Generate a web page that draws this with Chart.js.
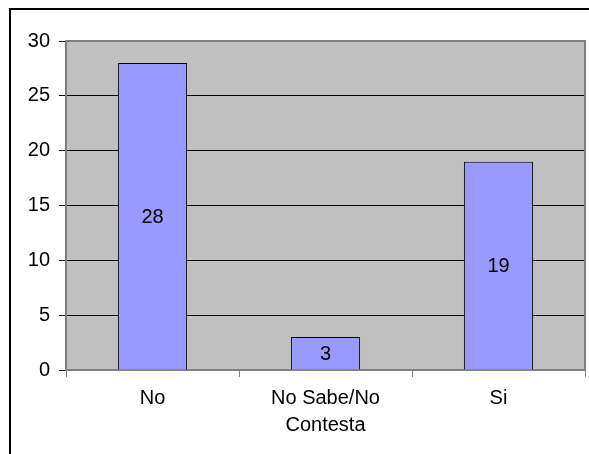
<!DOCTYPE html>
<html>
<head>
<meta charset="utf-8">
<script src="https://cdn.jsdelivr.net/npm/chart.js@4"></script>
<style>
  body { margin: 0; background: #fff; }
</style>
</head>
<body>
<canvas id="barChart" width="589" height="454"></canvas>
<script>
// values
const categories = ["No", ["No Sabe/No", "Contesta"], "Si"];
const answers = [28, 3, 19];
const yTicks = [0, 5, 10, 15, 20, 25, 30];

const FONT = "'Liberation Sans', Arial, sans-serif";

// grey plot area + outer frame of the whole chart
const frame = {
  id: "frame",
  beforeDraw(chart) {
    const { ctx, chartArea: a } = chart;
    ctx.save();
    ctx.fillStyle = "#fff";
    ctx.fillRect(0, 0, chart.width, chart.height);
    ctx.strokeStyle = "#000";
    ctx.lineWidth = 2;
    ctx.strokeRect(10, 9, chart.width + 20, chart.height + 20);
    ctx.fillStyle = "#c0c0c0";
    ctx.fillRect(a.left, a.top, a.right - a.left, a.bottom - a.top);
    ctx.restore();
  },
  afterDatasetsDraw(chart) {
    const { ctx, chartArea: a } = chart;
    ctx.save();
    ctx.strokeStyle = "#808080";
    ctx.lineWidth = 2;
    ctx.beginPath();
    ctx.moveTo(a.left, a.top);
    ctx.lineTo(a.right, a.top);
    ctx.lineTo(a.right, a.bottom);
    ctx.stroke();
    ctx.restore();
  }
};

// value printed in the middle of each bar
const barValues = {
  id: "barValues",
  afterDatasetsDraw(chart) {
    const { ctx } = chart;
    const meta = chart.getDatasetMeta(0);
    ctx.save();
    ctx.fillStyle = "#000";
    ctx.font = "20px " + FONT;
    ctx.textAlign = "center";
    ctx.textBaseline = "middle";
    meta.data.forEach((bar, i) => {
      ctx.fillText(String(answers[i]), bar.x, (bar.y + bar.base) / 2 + 1);
    });
    ctx.restore();
  }
};

new Chart(document.getElementById("barChart"), {
  type: "bar",
  data: {
    labels: categories,
    datasets: [
      {
        data: answers,
        backgroundColor: "#9999ff",
        borderColor: "#000",
        borderWidth: 1,
        categoryPercentage: 1,
        barPercentage: 0.4,
      },
    ],
  },
  options: {
    responsive: false,
    animation: false,
    layout: { padding: { top: 41, right: 4, left: 0, bottom: 0 } },
    plugins: {
      legend: { display: false },
      tooltip: { enabled: false },
    },
    scales: {
      x: {
        afterFit: (s) => { s.height = 84; },
        grid: {
          offset: true,
          drawOnChartArea: false,
          tickLength: 7,
          tickColor: "#808080",
        },
        border: { color: "#808080", width: 2 },
        ticks: {
          color: "#000",
          padding: 8,
          font: { family: FONT, size: 20, lineHeight: 1.35 },
          maxRotation: 0,
        },
      },
      y: {
        min: 0,
        max: 30,
        afterFit: (s) => { s.width = 66; },
        afterBuildTicks: (s) => { s.ticks = yTicks.map((v) => ({ value: v })); },
        grid: { color: "#000", tickColor: "#000", tickLength: 7 },
        border: { color: "#808080", width: 2 },
        ticks: {
          color: "#000",
          padding: 9,
          font: { family: FONT, size: 20 },
        },
      },
    },
  },
  plugins: [frame, barValues],
});
</script>
</body>
</html>
